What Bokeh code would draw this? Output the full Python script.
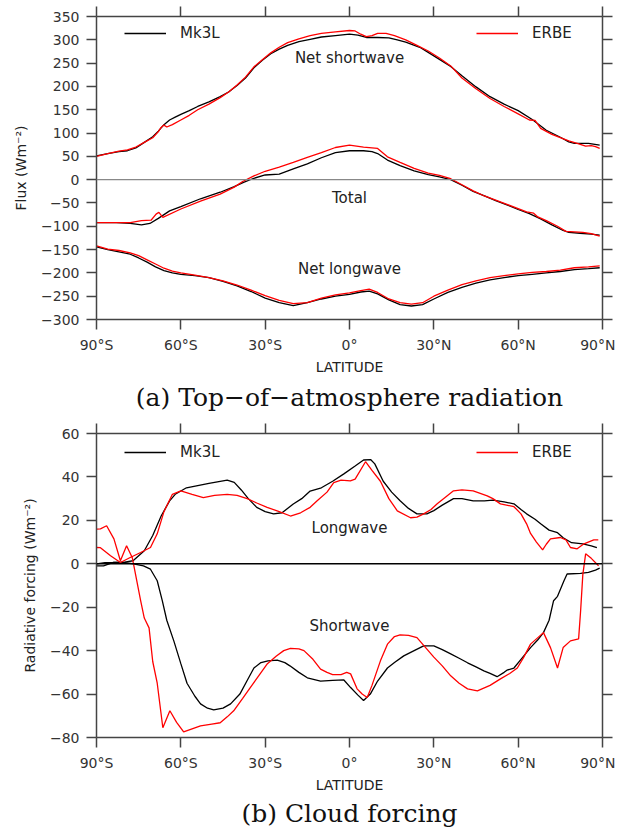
from bokeh.plotting import figure
from bokeh.models import (FixedTicker, LinearAxis, Legend, LegendItem, Span, Label,
                          Title, Range1d)
from bokeh.layouts import column
from bokeh.embed import file_html
from bokeh.resources import INLINE

# ---------------- data ----------------
lat_ticks = [-90, -60, -30, 0, 30, 60, 90]
lat_labels = ["90°S", "60°S", "30°S", "0°", "30°N", "60°N", "90°N"]

# (a) Top-of-atmosphere radiation
sw_mk3l_lat = [-90, -86, -82, -79, -76, -73, -70, -68, -66, -64, -62, -60, -57, -54, -50, -46, -43, -40, -37, -34, -31, -28, -25, -22, -18, -14, -10, -5, 0, 3, 6, 10, 14, 17, 20, 25, 28, 32, 36, 40, 45, 50, 55, 60, 65, 70, 75, 78, 80, 85, 89]
sw_mk3l = [51, 56, 60, 62, 68, 80, 92, 104, 118, 128, 134, 140, 148, 157, 167, 178, 188, 202, 218, 240, 256, 270, 280, 288, 296, 301, 306, 309, 312, 310, 305, 305, 304, 300, 295, 284, 273, 258, 243, 223, 199, 178, 162, 148, 129, 106, 91, 81, 78, 78, 74]
sw_erbe_lat = [-90, -86, -82, -79, -76, -73, -70, -68, -67, -66, -65, -63, -60, -57, -54, -50, -46, -43, -40, -37, -34, -31, -28, -25, -22, -18, -14, -10, -5, 0, 2, 4, 6, 8, 10, 13, 16, 20, 24, 28, 32, 36, 40, 45, 50, 55, 60, 64, 66, 68, 72, 75, 78, 81, 84, 86, 87.5, 89]
sw_erbe = [50, 56, 61, 64, 70, 80, 90, 103, 112, 117, 113, 118, 128, 138, 150, 162, 176, 188, 203, 220, 242, 257, 272, 284, 294, 302, 309, 314, 317, 320, 319, 312, 307, 309, 314, 314, 309, 300, 288, 276, 261, 244, 218, 195, 174, 157, 141, 128, 127, 110, 97, 90, 83, 78, 72, 73, 71, 67]

tot_mk3l_lat = [-90, -83, -78, -74, -71, -68, -64, -60, -53, -46, -41, -37.7, -34, -30, -25, -20, -15, -10, -5, 0, 5, 8, 10, 13.5, 18, 23, 28, 32, 36, 40, 44, 48, 52, 56, 60, 64, 68, 72, 76, 78, 82, 86, 89]
tot_mk3l = [-92, -92, -94, -97, -94, -83, -67, -58, -41, -27, -15, -6, 3, 10, 12, 23, 34, 47, 58, 62, 62, 60, 56, 42, 30, 19, 11, 6, 0, -12, -25, -35, -45, -54, -64, -73, -84, -97, -109, -113, -115, -117, -119]
tot_erbe_lat = [-90, -83, -78, -74, -70.6, -68.8, -67.8, -66.4, -60, -53, -46, -41, -38, -34, -30, -25, -20, -15, -10, -5, 0, 5, 10, 13.5, 18, 23, 28, 32, 36, 40, 44, 48, 52, 56, 60, 63, 65.5, 67, 70, 74, 77, 80, 83, 86, 89]
tot_erbe = [-92, -92, -92, -88, -87, -74, -70, -81, -63, -46, -31, -16, -4, 8, 18, 27, 37, 48, 58, 69, 74, 70, 67, 49, 37, 24, 14, 9, 2, -11, -24, -35, -44, -53, -62, -69, -72, -80, -88, -100, -111, -112, -113, -116, -121]

lw_mk3l_lat = [-90, -86, -82, -78, -75, -72, -69, -66, -63, -60, -55, -50, -45, -40, -35, -30, -25, -20, -15, -10, -5, 0, 4, 7, 10, 14, 18, 22, 26, 30, 35, 40, 45, 50, 55, 60, 65, 70, 75, 80, 85, 89]
lw_mk3l = [-144, -150, -155, -160, -168, -177, -187, -195, -200, -203, -206, -210, -218, -228, -240, -254, -264, -270, -264, -256, -250, -246, -241, -239, -245, -258, -268, -271, -268, -256, -242, -231, -222, -215, -210, -206, -203, -200, -197, -193, -191, -189]
lw_erbe_lat = [-90, -86, -82, -78, -75, -72, -69, -66, -63, -60, -55, -50, -45, -40, -35, -30, -25, -20, -15, -10, -5, 0, 4, 7, 10, 14, 18, 22, 26, 30, 35, 40, 45, 50, 55, 60, 65, 70, 75, 80, 85, 89]
lw_erbe = [-142, -149, -152, -157, -163, -172, -181, -190, -196, -200, -205, -210, -217, -226, -237, -249, -259, -266, -264, -254, -247, -243, -238, -235, -242, -256, -264, -267, -264, -250, -237, -225, -217, -210, -206, -202, -199, -197, -194, -189, -187, -185]

# (b) Cloud forcing
lwcf_mk3l_lat = [-90, -87, -84, -80, -77, -73, -70, -67, -64, -62, -58, -54, -50, -46, -43.5, -41, -38.5, -36, -33, -30, -27, -24, -20, -17, -14, -10, -6, -2, 2, 5, 7.5, 9, 12, 15, 18, 21, 24, 27.5, 30, 33, 37, 40, 44, 48, 51, 55, 58.5, 61, 63, 66, 68, 71, 74, 76, 79, 83, 86, 88]
lwcf_mk3l = [0, 0.5, 0.6, 0.8, 1.4, 6, 13, 22, 29, 32, 35, 36, 37, 38, 38.5, 37.5, 34, 30, 26, 24, 23, 23.5, 27.5, 30, 33.5, 35, 38, 41.4, 45, 47.8, 48, 46, 38, 33, 29, 25.5, 23, 23, 24.5, 27, 30, 30, 29, 29, 29.3, 28.5, 27.6, 25, 23, 20.5, 18.4, 15.5, 14.3, 12, 9.7, 9.2, 8.3, 7.4]
lwcf_erbe_lat = [-90, -88.6, -85, -81.5, -78, -74.3, -70.8, -68.4, -66, -63, -60, -56, -52, -48, -43.5, -40, -36.4, -33, -29.3, -25, -21, -17.4, -14, -11.5, -8, -5.6, -3, 0.3, 2, 5.7, 8, 11, 14, 17, 21.7, 24, 26.4, 29, 31.2, 34, 37, 40, 44, 49, 51, 53.7, 58.5, 61, 63, 64.4, 66.5, 68.7, 70, 71.5, 75, 77, 78.6, 81, 83.4, 86.9, 88.5]
lwcf_erbe = [7.5, 7.4, 3.7, 0.6, 2.9, 5.2, 7.5, 13.8, 24, 32, 33.6, 32, 30.5, 31.5, 32, 31.5, 30, 28, 26, 24, 22, 23.5, 26, 29, 33, 37.4, 38.5, 38.2, 39, 47, 43, 38, 30, 24.4, 21.2, 21.5, 23, 25, 27.6, 30.5, 33.6, 34, 33.6, 31.3, 30, 27.6, 26.3, 23, 18.4, 14, 10, 6.4, 9, 11.5, 12.1, 11, 7.5, 6.9, 9.2, 11, 11]

swcf_mk3l_lat = [-90, -87.5, -84, -80.4, -76.8, -73.3, -70.8, -68.4, -66.6, -65, -62.5, -60, -57.8, -55, -53, -50.5, -48.3, -45, -42.3, -39, -36.5, -34, -31.5, -29, -25.7, -23, -21.2, -18, -15, -10.3, -6, -2, 0.4, 3, 5, 7.4, 10, 13.5, 16, 19.3, 23, 26.4, 30, 33, 36, 39, 42, 45, 47.8, 50, 52.5, 55, 56, 58.5, 61, 64.4, 67, 69, 71, 72.6, 74, 76.3, 77.4, 82.2, 85, 87.5, 89]
swcf_mk3l = [-1, -1, 0.6, 0.6, 0, -1, -2.5, -7.8, -17, -26, -35.5, -46, -55, -61, -64.5, -66.5, -67.3, -66.5, -64.5, -60, -54, -48, -45.5, -44.7, -44.4, -45.5, -47, -50, -52.5, -54, -53.7, -53.5, -57, -60.5, -63, -60, -54, -48, -45.5, -42.4, -40, -37.8, -37.8, -39.5, -41.5, -43.5, -45.6, -47.5, -49.3, -50.5, -52, -50, -49, -48, -44, -38.6, -35, -31.7, -26, -17, -15, -7.8, -4.7, -4.4, -4, -2.9, -2]
swcf_erbe_lat = [-90, -88.6, -86.4, -83.8, -81.5, -79.3, -77.3, -76.7, -74.3, -73, -71.3, -70, -68.4, -66.4, -63.9, -61.5, -59, -56, -53, -49, -46, -43.5, -41.2, -38, -35.3, -32, -29.2, -26, -23.4, -21, -18, -16.2, -13, -10.3, -8, -6, -3, -1, 0.4, 2.7, 4.5, 6.3, 8, 11, 13.5, 16, 18, 21, 24, 27, 30, 33, 36, 39, 42, 45.5, 50, 53.7, 57, 59.7, 62, 64.4, 67, 69, 71.5, 74, 76, 78.6, 81.5, 82.2, 83, 84, 86, 88.6]
swcf_erbe = [16, 16.1, 17.5, 11.5, 1.4, 8.3, 2.9, -1, -17, -25, -29.5, -45, -55, -75.5, -67.7, -73, -77.4, -76, -74.6, -73.8, -73.2, -70.5, -67.7, -62, -57, -51, -46, -42.5, -40, -39, -39.2, -40, -44, -48.5, -50, -51, -51, -50, -50.7, -57.6, -60, -61.6, -56, -44.7, -37, -33.5, -32.7, -33, -34, -38.5, -43, -47, -51.6, -55, -57.6, -58.5, -56, -53, -50.5, -48, -43, -37, -34, -31.7, -38.6, -48, -38.6, -35.5, -34.6, -22, -5, 4.6, 2.5, -0.9]

# ---------------- styling ----------------
SANS = "DejaVu Sans"
SERIF = "DejaVu Serif"
TXT = "#222222"
TICK_TXT = "#333333"
AX = "#444444"
FRAME_W = 506
LW = 1.3


def style_axis(ax, labels=True):
    ax.axis_line_color = AX
    ax.axis_line_width = 1.5
    ax.major_tick_line_color = AX
    ax.major_tick_line_width = 1.5
    ax.major_tick_out = 10
    ax.major_tick_in = 0
    ax.minor_tick_line_color = None
    if labels:
        ax.major_label_text_font = SANS
        ax.major_label_text_font_size = "14px"
        ax.major_label_text_color = TICK_TXT
        ax.major_label_standoff = 7
        ax.axis_label_text_font = SANS
        ax.axis_label_text_font_size = "14px"
        ax.axis_label_text_font_style = "normal"
        ax.axis_label_text_color = TXT
        ax.axis_label_standoff = 3
    else:
        ax.major_label_text_font_size = "0px"
        ax.major_label_text_color = None
        ax.major_label_standoff = 0


def make_panel(ymin, ymax, ystep, frame_h, ylabel, top, bottom, caption, cap_standoff):
    p = figure(frame_width=FRAME_W, frame_height=frame_h,
               x_range=Range1d(-90, 90), y_range=Range1d(ymin, ymax),
               output_backend="svg", toolbar_location=None,
               min_border_left=96, min_border_right=13,
               min_border_top=top, min_border_bottom=bottom,
               x_axis_label="LATITUDE", y_axis_label=ylabel,
               background_fill_color="white", border_fill_color="white")
    p.outline_line_color = None
    p.grid.visible = False
    yt = list(range(ymin, ymax + 1, ystep))
    p.xaxis.ticker = FixedTicker(ticks=lat_ticks)
    p.xaxis.major_label_overrides = {t: l for t, l in zip(lat_ticks, lat_labels)}
    p.yaxis.ticker = FixedTicker(ticks=yt)
    for ax in p.xaxis + p.yaxis:
        style_axis(ax)
    p.yaxis.axis_label_standoff = 9
    ax_r = LinearAxis(ticker=FixedTicker(ticks=yt))
    style_axis(ax_r, labels=False)
    p.add_layout(ax_r, "right")
    ax_t = LinearAxis(ticker=FixedTicker(ticks=lat_ticks))
    style_axis(ax_t, labels=False)
    p.add_layout(ax_t, "above")
    p.add_layout(Title(text=caption, align="center", text_font=SERIF,
                       text_font_size="25px", text_font_style="normal",
                       text_color="#111111", standoff=cap_standoff), "below")
    return p


def add_legends(p, r_black, r_red, frame_h, dy):
    common = dict(margin=0, padding=0, spacing=0, glyph_width=42, glyph_height=20,
                  label_height=20, label_standoff=14, label_text_font=SANS,
                  label_text_font_size="15px", label_text_color=TXT,
                  border_line_color=None, background_fill_alpha=0)
    l1 = Legend(items=[LegendItem(label="Mk3L", renderers=[r_black])],
                location=(28, frame_h - dy - 20), **common)
    l2 = Legend(items=[LegendItem(label="ERBE", renderers=[r_red])],
                location=(380, frame_h - dy - 20), **common)
    p.add_layout(l1)
    p.add_layout(l2)


def add_text(p, x, y, t):
    p.add_layout(Label(x=x, y=y, text=t, text_align="center", text_baseline="middle",
                       text_font=SANS, text_font_size="15px", text_color=TXT))


# ---------------- panel (a) ----------------
p1 = make_panel(-300, 350, 50, 303, "Flux (Wm⁻²)", 16, 96,
                "(a) Top−of−atmosphere radiation", 7)
p1.add_layout(Span(location=0, dimension="width", line_color="#888888", line_width=1.2))
rb = p1.line(sw_mk3l_lat, sw_mk3l, line_color="black", line_width=LW)
p1.line(tot_mk3l_lat, tot_mk3l, line_color="black", line_width=LW)
p1.line(lw_mk3l_lat, lw_mk3l, line_color="black", line_width=LW)
rr = p1.line(sw_erbe_lat, sw_erbe, line_color="red", line_width=LW)
p1.line(tot_erbe_lat, tot_erbe, line_color="red", line_width=LW)
p1.line(lw_erbe_lat, lw_erbe, line_color="red", line_width=LW)
add_legends(p1, rb, rr, 303, 7)
add_text(p1, 0, 260, "Net shortwave")
add_text(p1, 0, -39, "Total")
add_text(p1, 0, -191, "Net longwave")

# ---------------- panel (b) ----------------
p2 = make_panel(-80, 60, 20, 304, "Radiative forcing (Wm⁻²)", 18, 89,
                "(b) Cloud forcing", 3)
p2.add_layout(Span(location=0, dimension="width", line_color="black", line_width=1.5))
rb2 = p2.line(lwcf_mk3l_lat, lwcf_mk3l, line_color="black", line_width=LW)
p2.line(swcf_mk3l_lat, swcf_mk3l, line_color="black", line_width=LW)
rr2 = p2.line(lwcf_erbe_lat, lwcf_erbe, line_color="red", line_width=LW)
p2.line(swcf_erbe_lat, swcf_erbe, line_color="red", line_width=LW)
add_legends(p2, rb2, rr2, 304, 9)
add_text(p2, 0, 16.6, "Longwave")
add_text(p2, 0, -28.6, "Shortwave")

layout = column(p1, p2, spacing=0)
open("out.html", "w").write(file_html(layout, INLINE))
